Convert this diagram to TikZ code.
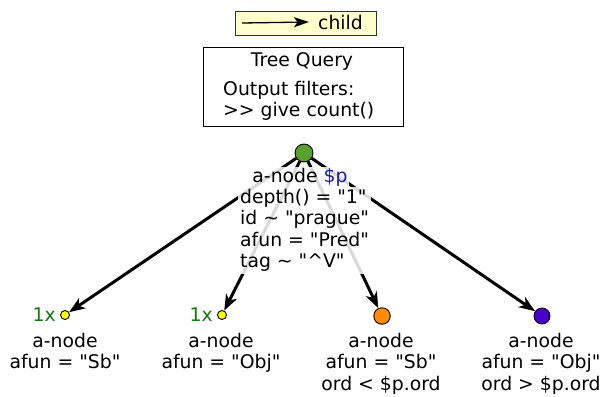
\documentclass[tikz,border=0pt]{standalone}
\usepackage{fontspec}
\newfontfamily\dvsans{DejaVu Sans}
\usepackage{xcolor}
\usetikzlibrary{arrows.meta}

\definecolor{rootgreen}{HTML}{5AA02C}
\definecolor{nodeyellow}{HTML}{FFFF00}
\definecolor{nodeorange}{HTML}{FF8C00}
\definecolor{nodepurple}{HTML}{4A00C8}
\definecolor{varblue}{HTML}{1A1AA6}
\definecolor{countgreen}{HTML}{117711}
\definecolor{legendfill}{HTML}{FFFFCC}

\begin{document}
\begin{tikzpicture}[x=1pt, y=-1pt,
    every node/.style={font=\dvsans\fontsize{18.8}{21.5}\selectfont, inner sep=1pt},
    anode/.style={circle, draw=black, line width=0.9pt, inner sep=0pt},
    edge/.style={line width=3pt, -{Stealth[length=16pt, width=12pt, inset=4.5pt]}},
    lbl/.style={align=center, anchor=north}]
    \useasboundingbox (0,0) rectangle (601,396);

    % legend
    \node[draw=black!80, fill=legendfill, line width=0.9pt, minimum width=141pt,
      minimum height=24pt, inner sep=0pt] (legend) at (305.5,23) {};
    \coordinate (lgstart) at (242,23);
    \node[anchor=west, inner sep=0pt] (lgtext) at (318,22) {child};
    \draw[line width=1.3pt, -{Stealth[length=15pt, width=10pt, inset=3.5pt]}] (lgstart) -- ([xshift=-9pt]lgtext.west);

    % query box
    \node[draw=black, line width=0.9pt, minimum width=200pt, minimum height=79pt,
      inner sep=0pt] (query) at (303,86.5) {};
    \node (qtitle) at (302,61) {Tree Query};
    \node[anchor=west, align=left] (qfilter) at (222,101) {Output filters:\\>> give count()};

    % nodes
    \node[anode, fill=rootgreen, minimum size=18pt] (root) at (304,153) {};
    \node[anode, fill=nodeyellow, minimum size=9pt] (c1) at (65,315) {};
    \node[anode, fill=nodeyellow, minimum size=9pt] (c2) at (222,315) {};
    \node[anode, fill=nodeorange, minimum size=16.5pt] (c3) at (382,316) {};
    \node[anode, fill=nodepurple, minimum size=16pt] (c4) at (542,316) {};

    % edges
    \foreach \c in {c1,c2,c3,c4}
      \draw[edge] (root) -- (\c);

    % labels
    \node[fill=white, fill opacity=0.85, text opacity=1] (rootname) at (300,177) {a-node \textcolor{varblue}{\$p}};
    \node[fill=white, fill opacity=0.85, text opacity=1, align=left, anchor=north west,
      inner sep=2pt] (rootcond) at (238,187) {depth() = "1"\\id \textasciitilde{} "prague"\\afun = "Pred"\\tag \textasciitilde{} "\textasciicircum V"};
    \node[text=countgreen, anchor=east] (n1) at (c1.west) {1x\,};
    \node[text=countgreen, anchor=east] (n2) at (c2.west) {1x\,};
    \node[lbl] (l1) at (65,332) {a-node\\afun = "Sb"};
    \node[lbl] (l2) at (221,332) {a-node\\afun = "Obj"};
    \node[lbl] (l3) at (381,332) {a-node\\afun = "Sb"\\ord < \$p.ord};
    \node[lbl] (l4) at (541,332) {a-node\\afun = "Obj"\\ord > \$p.ord};
  \end{tikzpicture}
\end{document}
